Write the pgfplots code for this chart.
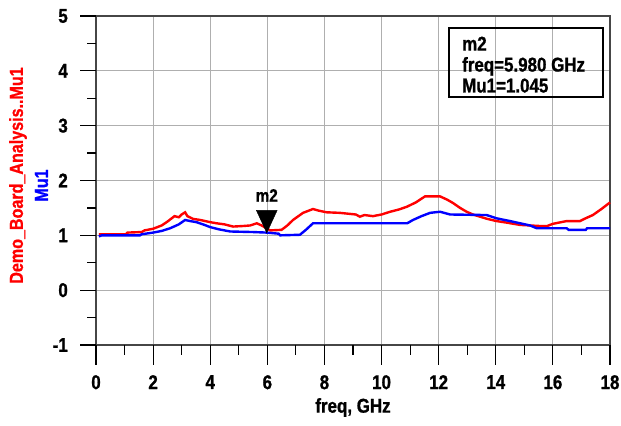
\documentclass[border=0pt]{standalone}
\usepackage{pgfplots}
\pgfplotsset{compat=1.18}
\usepackage{fontspec}
\setmainfont{Liberation Sans Bold}[FakeStretch=0.85, FakeBold=1]
\definecolor{gridgray}{RGB}{175,175,175}
\definecolor{axgray}{RGB}{70,70,70}
\begin{document}
\begin{tikzpicture}
\useasboundingbox (0,0) rectangle (621bp,426bp);
\begin{axis}[
  at={(96bp,81bp)}, anchor=south west,
  scale only axis, width=514bp, height=329bp,
  xmin=0, xmax=18, ymin=-1, ymax=5,
  xtick={0,2,...,18}, ytick={-1,0,...,5},
  minor xtick={1,3,...,17}, minor ytick={-0.5,0.5,...,4.5},
  grid=major,
  major grid style={gridgray, line width=1.1bp},
  axis line style={axgray, line width=1.1bp},
  major tick length=0pt, minor tick length=0pt,
  tick pos=left,
  /pgf/number format/assume math mode=true,
  ticklabel style={font=\fontsize{20}{22}\selectfont, inner sep=0pt},
  yticklabel style={xshift=-28bp},
  xticklabel style={yshift=-30bp},
  xlabel={freq, GHz},
  xlabel style={font=\fontsize{20}{22}\selectfont, inner sep=0pt, at={(rel axis cs:0.5,0)}, anchor=north, yshift=-53bp},
  clip=false,
]
\addplot[red, line width=2.4bp] coordinates {
(0.1,1.02) (0.5,1.02) (1.05,1.02) (1.1,1.05) (1.6,1.06) (1.7,1.09) (2.0,1.12) (2.3,1.18) (2.5,1.25) (2.75,1.35) (2.9,1.33) (3.0,1.38) (3.12,1.42) (3.2,1.35) (3.4,1.3) (3.65,1.28) (4.0,1.24) (4.22,1.22) (4.5,1.2) (4.8,1.16) (5.15,1.17) (5.4,1.18) (5.63,1.22) (5.8,1.18) (6.0,1.12) (6.1,1.09) (6.5,1.10) (6.7,1.18) (6.9,1.28) (7.25,1.41) (7.6,1.48) (7.8,1.45) (8.08,1.42) (8.54,1.41) (9.1,1.38) (9.24,1.34) (9.4,1.37) (9.7,1.35) (10.0,1.38) (10.3,1.43) (10.6,1.47) (10.88,1.52) (11.2,1.6) (11.52,1.71) (12.05,1.71) (12.3,1.65) (12.5,1.59) (12.75,1.5) (12.98,1.43) (13.2,1.38) (13.45,1.34) (13.7,1.3) (14.03,1.26) (14.4,1.23) (14.85,1.19) (15.2,1.18) (15.55,1.17) (15.8,1.17) (16.0,1.21) (16.48,1.26) (16.95,1.26) (17.1,1.3) (17.4,1.37) (17.7,1.48) (18.0,1.6)
};
\addplot[blue, line width=2.4bp] coordinates {
(0.1,0.98) (0.2,1.0) (1.54,1.0) (1.6,1.02) (2.0,1.05) (2.3,1.08) (2.6,1.13) (2.9,1.2) (3.12,1.28) (3.3,1.26) (3.52,1.24) (3.8,1.19) (4.0,1.15) (4.3,1.11) (4.7,1.07) (5.5,1.06) (5.98,1.05) (6.4,1.03) (6.45,1.0) (7.14,1.01) (7.35,1.1) (7.6,1.22) (10.9,1.22) (11.1,1.28) (11.4,1.35) (11.7,1.41) (12.05,1.43) (12.4,1.38) (13.68,1.37) (14.03,1.31) (14.5,1.26) (14.85,1.22) (15.2,1.18) (15.43,1.13) (16.48,1.13) (16.55,1.10) (17.15,1.10) (17.2,1.13) (18.0,1.13)
};
\addplot[black, only marks, mark=triangle*, mark size=12bp,
  mark options={yshift=15bp, rotate=180, yscale=1.25}] coordinates {(5.98,1.045)};
\node[anchor=south, font=\fontsize{18}{20}\selectfont, inner sep=0pt] at (axis cs:5.98,1.045) [yshift=31bp] {m2};
\end{axis}
% tick marks
\foreach \i in {0,...,9} \draw[black, line width=1.2bp] ({96bp+\i*57.111bp},81bp) -- ++(0,-20bp);
\foreach \i in {0,...,8} \draw[black, line width=1.2bp] ({124.556bp+\i*57.111bp},81bp) -- ++(0,-10bp);
\foreach \i in {0,...,6} \draw[black, line width=1.2bp] (96bp,{81bp+\i*54.833bp}) -- ++(-16bp,0);
\foreach \i in {0,...,5} \draw[black, line width=1.2bp] (96bp,{108.417bp+\i*54.833bp}) -- ++(-9bp,0);
\draw[black, line width=1.2bp] (449bp,329bp) rectangle (603bp,398bp);
\node[anchor=north west, align=left, inner sep=0pt, font=\fontsize{20}{21}\selectfont] at (462bp,389.5bp) {m2\\freq=5.980 GHz\\Mu1=1.045};
\node[rotate=90, red, font=\fontsize{19}{20}\selectfont] at (18bp,250.5bp) {Demo\_Board\_Analysis..Mu1};
\node[rotate=90, blue, font=\fontsize{19}{20}\selectfont] at (41.5bp,240.5bp) {Mu1};
\end{tikzpicture}
\end{document}
